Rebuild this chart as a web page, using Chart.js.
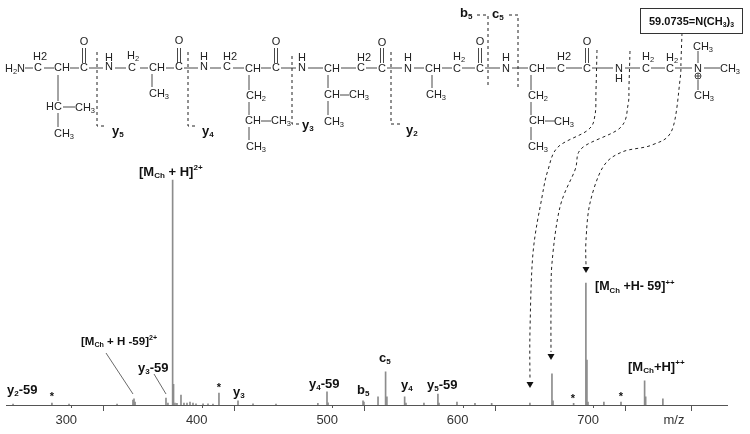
<!DOCTYPE html>
<html>
<head>
<meta charset="utf-8">
<style>html,body{margin:0;padding:0;background:#fff}#w{width:750px;height:434px;position:relative}</style>
<script src="https://cdn.jsdelivr.net/npm/chart.js@4"></script>
</head>
<body>
<div id="w"><canvas id="c" width="750" height="434"></canvas></div>
<script>
const peakMz = [255.4,285.2,298.3,335.1,347.3,348.1,348.9,372.6,374.1,377.7,378.4,379.5,381,384.1,386.4,388.7,391,393.3,395.6,401,404.8,408.6,413.2,427.8,439.3,456.9,489,496,496.8,523.6,524.3,535.1,540.9,541.9,555.5,556.5,570.3,581,581.8,595.6,609.4,622.2,651.5,668.4,669.2,685,694.4,695.2,696,708.2,721.3,739.4,740.2,753.4];
const peakIntensity = [0.4,0.9,0.4,0.4,2.2,2.7,1.3,3.1,0.9,100,9.2,0.9,0.7,4.4,0.9,0.9,1.3,0.9,0.5,0.5,0.5,0.4,5.3,1.8,0.5,0.4,0.7,5.8,1,1.8,1.3,3.6,14.7,3.6,3.6,0.9,0.9,4.9,0.9,1.3,0.7,0.7,0.9,13.8,1.8,0.7,54.2,20,1.3,1.3,1.3,10.7,3.6,2.7];
const axisLabels = [300,400,500,600,700];

// Chemical structure drawn above the spectrum: [text, centre x, centre y]
const atoms = [
 ['H_2N',15,69],['H2',40,57],['C',38,68],['CH',62,68],['C',84,68],['O',84,42],['H',109,58],['N',109,67],
 ['H_2',133,56],['C',132,68],['CH',157,68],['C',179,67],['O',179,41],['H',204,57],['N',204,67],['H2',230,57],
 ['C',227,67],['CH',253,69],['C',276,68],['O',276,42],['H',302,58],['N',302,68],['CH',332,69],['H2',364,58],['C',361,68],
 ['HC',54,107],['CH_3',85,108],['CH_3',64,134],['CH_3',159,94],['CH_2',256,96],['CH',253,121],['CH_3',281,121],['CH_3',256,147],
 ['CH',332,95],['CH_3',359,95],['CH_3',334,122],
 ['C',382,69],['O',382,43],['H',408,58],['N',408,69],['CH',433,69],['H_2',459,57],['C',457,69],['C',480,69],['O',480,42],
 ['H',506,58],['N',506,69],['CH',537,69],['H2',564,57],['C',561,69],['C',587,69],['O',587,42],['N',619,69],['H',619,79],
 ['H_2',648,57],['C',646,69],['H_2',672,58],['C',670,69],['N',698,69],['CH_3',703,47],['CH_3',730,69],['CH_3',704,96],
 ['CH_3',436,95],['CH_2',538,96],['CH',537,121],['CH_3',564,122],['CH_3',538,147]
];
const bonds = [
 [25,68,33,68],[44,68,54,68],[70,68,79,68],[89,68,103,68],[115,68,126,68],[140,68,148,68],[166,68,174,68],[184,68,198,68],[210,68,221,68],[233,68,244,68],
 [261,68,271,68],[281,68,296,68],[308,68,323,68],[341,68,356,68],[366,68,377,68],[387,68,402,68],[414,68,424,68],[442,68,452,68],[462,68,475,68],[485,68,500,68],
 [512,68,528,68],[546,68,556,68],[566,68,582,68],[592,68,613,68],[625,68,640,68],[651,68,665,68],[675,68,692,68],[704,68,720,68],
 [58,75,58,101],[58,113,58,127],[63,107,75,107],[152,74,152,87],[249,75,249,90],[249,102,249,115],[249,127,249,140],[261,121,271,121],
 [328,75,328,88],[328,101,328,115],[340,95,349,95],[432,75,432,88],[531,75,531,90],[531,102,531,115],[531,127,531,140],[545,121,555,121],
 [698,51,698,63],[698,80,698,90]
];
const doubleBondX = [84,179,276,382,480,587];
const dashed = [
 [[97,52],[97,126],[107,126]],[[188,52],[188,126],[198,126]],[[292,56],[292,124],[300,124]],[[391,52],[391,124],[402,124]],
 [[477,15],[488,15],[488,87]],[[509,15],[518,15],[518,87]]
];
const curves = [
 [[597,50],[596,90],[595,115],[588,130],[558,147],[548,170],[542,197],[533,253],[530,330],[530,380]],
 [[630,51],[629,85],[628,105],[620,128],[582,148],[575,170],[560,207],[552,263],[551,310],[551,352]],
 [[682,33],[681,60],[680,80],[672,130],[652,145],[622,152],[603,167],[590,203],[586,240],[586,265]]
];
const arrowTips = [[530,388],[551,360],[586,273]];
const boldLabels = [
 ['[M_{Ch} + H]^{2+}',139,172,13],['[M_{Ch} + H -59]^{2+}',81,342,11.5],['y_{3}-59',138,368,13],['y_{2}-59',7,390,13],['y_{3}',233,392,13],
 ['y_{4}-59',309,384,13],['b_{5}',357,390,13],['c_{5}',379,358,13],['y_{4}',401,385,13],['y_{5}-59',427,385,13],
 ['[M_{Ch} +H- 59]^{++}',595,287,12.5],['[M_{Ch}+H]^{++}',628,367,13],
 ['y_{5}',112,131,13],['y_{4}',202,131,13],['y_{3}',302,125,13],['y_{2}',406,130,13],['b_{5}',460,13,13],['c_{5}',492,14,13]
];
const stars = [[52,397],[219,388],[573,399],[621,397]];
const leaders = [[106,353,133,394],[154,374,166,394]];

function rich(ctx, str, x, y, size, bold) {
  const w = bold ? 'bold ' : '';
  const re = /([_^])\{([^}]*)\}|([^_^]+)/g; let m;
  ctx.textAlign = 'left'; ctx.textBaseline = 'middle';
  while ((m = re.exec(str))) {
    if (m[3]) { ctx.font = w + size + 'px "Liberation Sans"'; ctx.fillText(m[3], x, y); x += ctx.measureText(m[3]).width; }
    else {
      const s = size * 0.62;
      ctx.font = w + s + 'px "Liberation Sans"';
      ctx.fillText(m[2], x, y + (m[1] === '_' ? size * 0.3 : -size * 0.35));
      x += ctx.measureText(m[2]).width;
    }
  }
}
function atom(ctx, t, cx, cy) {
  const size = 11, parts = t.split('_');
  ctx.textBaseline = 'middle'; ctx.textAlign = 'left';
  ctx.font = size + 'px "Liberation Sans"';
  const a = ctx.measureText(parts[0]).width; let b = 0, tail = '';
  if (parts[1]) {
    const digit = parts[1][0]; tail = parts[1].slice(1);
    ctx.font = '7.5px "Liberation Sans"'; b = ctx.measureText(digit).width;
    ctx.font = size + 'px "Liberation Sans"';
    const tw = ctx.measureText(tail).width, x0 = cx - (a + b + tw) / 2;
    ctx.fillText(parts[0], x0, cy);
    if (tail) ctx.fillText(tail, x0 + a + b, cy);
    ctx.font = '7.5px "Liberation Sans"'; ctx.fillText(digit, x0 + a, cy + 3);
  } else ctx.fillText(parts[0], cx - a / 2, cy);
}
const overlay = {
  id: 'overlay',
  afterDraw(chart) {
    const ctx = chart.ctx, xs = chart.scales.x;
    ctx.save();
    // short ticks under the numbered labels
    ctx.strokeStyle = '#555'; ctx.lineWidth = 1;
    axisLabels.forEach(v => { const p = Math.round(xs.getPixelForValue(v)) + .5; ctx.beginPath(); ctx.moveTo(p, 405); ctx.lineTo(p, 408); ctx.stroke(); });
    ctx.fillStyle = '#222'; ctx.strokeStyle = '#333'; ctx.lineWidth = .9;
    atoms.forEach(a => atom(ctx, a[0], a[1], a[2]));
    bonds.forEach(b => { ctx.beginPath(); ctx.moveTo(b[0], b[1]); ctx.lineTo(b[2], b[3]); ctx.stroke(); });
    doubleBondX.forEach(x => { [-1.5, 1.5].forEach(d => { ctx.beginPath(); ctx.moveTo(x + d, 48); ctx.lineTo(x + d, 63); ctx.stroke(); }); });
    // circled charge
    ctx.beginPath(); ctx.arc(698, 76, 3, 0, 7); ctx.moveTo(695, 76); ctx.lineTo(701, 76); ctx.moveTo(698, 73); ctx.lineTo(698, 79); ctx.stroke();
    ctx.setLineDash([3, 3]); ctx.strokeStyle = '#222'; ctx.lineWidth = 1;
    dashed.forEach(d => { ctx.beginPath(); d.forEach((p, i) => i ? ctx.lineTo(p[0], p[1]) : ctx.moveTo(p[0], p[1])); ctx.stroke(); });
    curves.forEach(c => {
      ctx.beginPath(); ctx.moveTo(c[0][0], c[0][1]);
      for (let i = 0; i < c.length - 1; i++) {
        const p0 = c[Math.max(i - 1, 0)], p1 = c[i], p2 = c[i + 1], p3 = c[Math.min(i + 2, c.length - 1)];
        ctx.bezierCurveTo(p1[0] + (p2[0] - p0[0]) / 6, p1[1] + (p2[1] - p0[1]) / 6, p2[0] - (p3[0] - p1[0]) / 6, p2[1] - (p3[1] - p1[1]) / 6, p2[0], p2[1]);
      }
      ctx.stroke();
    });
    ctx.setLineDash([]);
    ctx.fillStyle = '#111';
    arrowTips.forEach(t => { ctx.beginPath(); ctx.moveTo(t[0], t[1]); ctx.lineTo(t[0] - 3.5, t[1] - 6); ctx.lineTo(t[0] + 3.5, t[1] - 6); ctx.closePath(); ctx.fill(); });
    // box
    ctx.strokeStyle = '#333'; ctx.lineWidth = 1; ctx.strokeRect(640.5, 8.5, 102, 25);
    ctx.fillStyle = '#111';
    rich(ctx, '59.0735=N(CH_{3})_{3}', 649, 22, 11, true);
    leaders.forEach(l => { ctx.strokeStyle = '#444'; ctx.lineWidth = .8; ctx.beginPath(); ctx.moveTo(l[0], l[1]); ctx.lineTo(l[2], l[3]); ctx.stroke(); });
    boldLabels.forEach(l => rich(ctx, l[0], l[1], l[2], l[3], true));
    ctx.font = 'bold 11px "Liberation Sans"'; ctx.textAlign = 'center'; ctx.textBaseline = 'middle';
    stars.forEach(s => ctx.fillText('*', s[0], s[1]));
    ctx.fillStyle = '#333'; ctx.font = '13px "Liberation Sans"';
    ctx.fillText('m/z', 674, 420);
    ctx.restore();
  }
};
new Chart(document.getElementById('c'), {
  type: 'bar',
  data: { datasets: [{
    data: peakMz.map((m, i) => ({ x: m, y: peakIntensity[i] })),
    backgroundColor: '#8c8c8c', barThickness: 1, borderWidth: 0
  }] },
  options: {
    responsive: false, animation: false,
    layout: { padding: { left: 6, right: 22.4, top: 0, bottom: 0 } },
    plugins: { legend: { display: false }, tooltip: { enabled: false } },
    scales: {
      x: {
        type: 'linear', min: 250, max: 803, offset: false,
        afterFit(s) { s.height = 29; },
        grid: { drawOnChartArea: false, drawTicks: true, tickLength: 6, tickWidth: 1,
                tickColor: c => (c.tick && axisLabels.includes(c.tick.value)) ? 'rgba(0,0,0,0)' : '#555' },
        border: { display: true, color: '#555', width: 1 },
        ticks: { stepSize: 50, includeBounds: false, autoSkip: false, maxRotation: 0, labelOffset: -5, padding: 2,
                 color: '#333', font: { family: '"Liberation Sans"', size: 13 },
                 callback: v => axisLabels.includes(v) ? String(v) : '' }
      },
      y: { display: false, min: 0, max: 180 }
    }
  },
  plugins: [overlay]
});
</script>
</body>
</html>
